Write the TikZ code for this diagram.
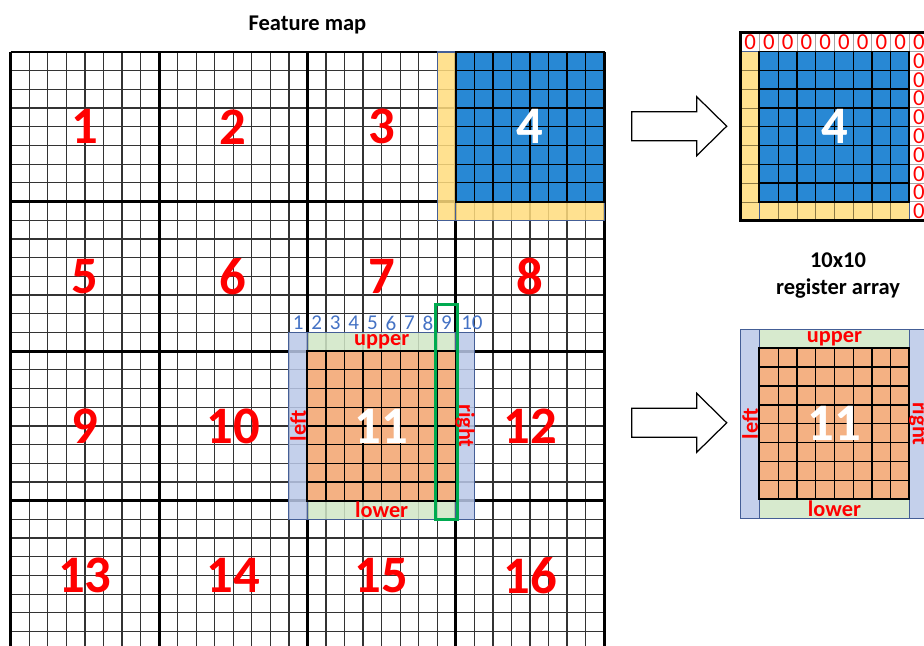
\documentclass[tikz,border=0pt]{standalone}
\usepackage{fontspec}
\setmainfont{Carlito}

\definecolor{tileblue}{RGB}{40,136,212}
\definecolor{padyellow}{RGB}{255,220,125}
\definecolor{tileorange}{RGB}{244,177,131}
\definecolor{sideblue}{RGB}{186,200,232}
\definecolor{sidegreen}{RGB}{208,230,198}
\definecolor{edgeblue}{RGB}{68,94,150}
\definecolor{colgreen}{RGB}{0,170,80}
\definecolor{idxblue}{RGB}{68,114,196}

\begin{document}
\begin{tikzpicture}[x=0.02cm, y=-0.02cm,
    thin grid/.style={line width=0.7pt, black!80},
    block line/.style={line width=1.7pt},
    tile edge/.style={line width=1.1pt},
    pad/.style={fill=padyellow, fill opacity=0.85, draw=edgeblue, line width=0.6pt},
    side/.style={fill opacity=0.85, draw=edgeblue, line width=0.6pt},
    tile num/.style={font=\fontsize{30}{30}\selectfont\bfseries, text=red, inner sep=0pt},
    side lbl/.style={font=\fontsize{12.7}{13}\selectfont\bfseries, text=red, inner sep=0pt},
    idx/.style={font=\fontsize{12}{12}\selectfont, text=idxblue, inner sep=0pt},
    zero/.style={font=\fontsize{13}{13}\selectfont, text=red, inner sep=0pt},
    title/.style={font=\fontsize{12.8}{15}\selectfont\bfseries, inner sep=0pt},
    fat arrow/.style={draw, fill=white, line width=0.7pt},
  ]
  \clip (0,0) rectangle (924,646);

  % Titles
  \node[title, anchor=base] (fmtitle) at (307.5,30.7) {Feature map};
  \node[title, anchor=base] (regtitle) at (838,267.3) {10x10};
  \node[title, anchor=base] (regtitle2) at (838,294.3) {register array};

  % Feature map, one unit = one cell
  \begin{scope}[shift={(10.7,52)}, x=0.371cm, y=-0.374cm]
    \foreach \i in {0,...,32} {
      \draw[thin grid] (\i,0) -- (\i,32);
      \draw[thin grid] (0,\i) -- (32,\i);
    }
    \foreach \i in {0,8,...,32} {
      \draw[block line] (\i,0) -- (\i,32);
      \draw[block line] (0,\i) -- (32,\i);
    }
    % padding of tile 4
    \draw[pad] (23,0) rectangle (24,9);
    \draw[pad] (24,8) rectangle (32,9);
    % border of tile 11
    \draw[side, fill=sideblue] (15,15) rectangle (16,25);
    \draw[side, fill=sideblue] (24,15) rectangle (25,25);
    \draw[side, fill=sidegreen] (16,15) rectangle (24,16);
    \draw[side, fill=sidegreen] (16,24) rectangle (24,25);
    % tiles 4 and 11
    \fill[tileblue] (24,0) rectangle (32,8);
    \fill[tileorange] (16,16) rectangle (24,24);
    \foreach \i in {1,...,7} {
      \draw[thin grid, black] (24+\i,0) -- (24+\i,8);
      \draw[thin grid, black] (24,\i) -- (32,\i);
      \draw[thin grid, black] (16+\i,16) -- (16+\i,24);
      \draw[thin grid, black] (16,16+\i) -- (24,16+\i);
    }
    \draw[tile edge] (24,0) rectangle (32,8);
    \draw[tile edge] (16,16) rectangle (24,24);
    % column 9 of the window
    \draw[colgreen, line width=1.7pt] (22.92,13.52) rectangle (24.09,25);

    % Row 1
    \node[tile num] (t1) at (4,4) {1};
    \node[tile num] (t2) at (12,4) {2};
    \node[tile num] (t3) at (20,4) {3};
    \node[tile num, text=white] (t4) at (28,4) {4};
    % Row 2
    \node[tile num] (t5) at (4,12) {5};
    \node[tile num] (t6) at (12,12) {6};
    \node[tile num] (t7) at (20,12) {7};
    \node[tile num] (t8) at (28,12) {8};
    % Row 3
    \node[tile num] (t9) at (4,20) {9};
    \node[tile num] (t10) at (12,20) {10};
    \node[tile num, text=white] (t11) at (20,20) {11};
    \node[tile num] (t12) at (28,20) {12};
    % Row 4
    \node[tile num] (t13) at (4,28) {13};
    \node[tile num] (t14) at (12,28) {14};
    \node[tile num] (t15) at (20,28) {15};
    \node[tile num] (t16) at (28,28) {16};

    % window column indices
    \foreach \n in {1,...,9}
      \node[idx] (idx\n) at (14.5+\n,14.5) {\n};
    \node[idx] (idx10) at (24.87,14.5) {10};

    \node[side lbl] (upper) at (20,15.5) {upper};
    \node[side lbl] (lower) at (20,24.5) {lower};
    \node[side lbl, rotate=90] (left) at (15.5,20) {left};
    \node[side lbl, rotate=-90] (right) at (24.5,20) {right};
  \end{scope}

  % Arrows to the register arrays
  \foreach \y in {126.2,422.8}
    \draw[fat arrow] (631.7,\y-14.5) -- ++(65,0) -- ++(0,-15) -- (726.7,\y)
      -- (696.7,\y+29.5) -- ++(0,-15) -- (631.7,\y+14.5) -- cycle;

  % Register array for tile 4
  \begin{scope}[shift={(740.7,32.7)}, x=0.375cm, y=-0.376cm]
    \foreach \i in {0,...,9} {
      \draw[black!35, line width=0.5pt] (\i,0) rectangle (\i+1,1);
      \node[zero] (ztop\i) at (\i+0.5,0.5) {0};
    }
    \foreach \j in {1,...,9} {
      \draw[black!35, line width=0.5pt] (9,\j) rectangle (10,\j+1);
      \node[zero] (zright\j) at (9.5,\j+0.5) {0};
    }
    \fill[padyellow, fill opacity=0.85] (0,1) rectangle (1,10);
    \fill[padyellow, fill opacity=0.85] (1,9) rectangle (9,10);
    \foreach \i in {2,...,9} \draw[padyellow!55!black, line width=0.4pt] (0,\i) -- (1,\i);
    \foreach \i in {2,...,8} \draw[padyellow!55!black, line width=0.4pt] (\i,9) -- (\i,10);
    \draw[edgeblue, line width=0.6pt] (0,1) rectangle (1,10);
    \draw[edgeblue, line width=0.6pt] (1,9) rectangle (9,10);
    \fill[tileblue] (1,1) rectangle (9,9);
    \foreach \i in {2,...,8} {
      \draw[thin grid, black] (\i,1) -- (\i,9);
      \draw[thin grid, black] (1,\i) -- (9,\i);
    }
    \draw[tile edge] (1,1) rectangle (9,9);
    \draw[block line] (0,0) rectangle (10,10);
    \node[tile num, text=white] (reg4) at (5,5) {4};
  \end{scope}

  % Register array for tile 11
  \begin{scope}[shift={(740.7,329.3)}, x=0.375cm, y=-0.378cm]
    \draw[side, fill=sideblue] (0,0) rectangle (1,10);
    \draw[side, fill=sideblue] (9,0) rectangle (10,10);
    \draw[side, fill=sidegreen] (1,0) rectangle (9,1);
    \draw[side, fill=sidegreen] (1,9) rectangle (9,10);
    \fill[tileorange] (1,1) rectangle (9,9);
    \foreach \i in {2,...,8} {
      \draw[thin grid, black] (\i,1) -- (\i,9);
      \draw[thin grid, black] (1,\i) -- (9,\i);
    }
    \draw[tile edge] (1,1) rectangle (9,9);
    \node[tile num, text=white] (reg11) at (5,5) {11};
    \node[side lbl] (regupper) at (5,0.5) {upper};
    \node[side lbl] (reglower) at (5,9.5) {lower};
    \node[side lbl, rotate=90] (regleft) at (0.5,5) {left};
    \node[side lbl, rotate=-90] (regright) at (9.5,5) {right};
  \end{scope}
\end{tikzpicture}
\end{document}
